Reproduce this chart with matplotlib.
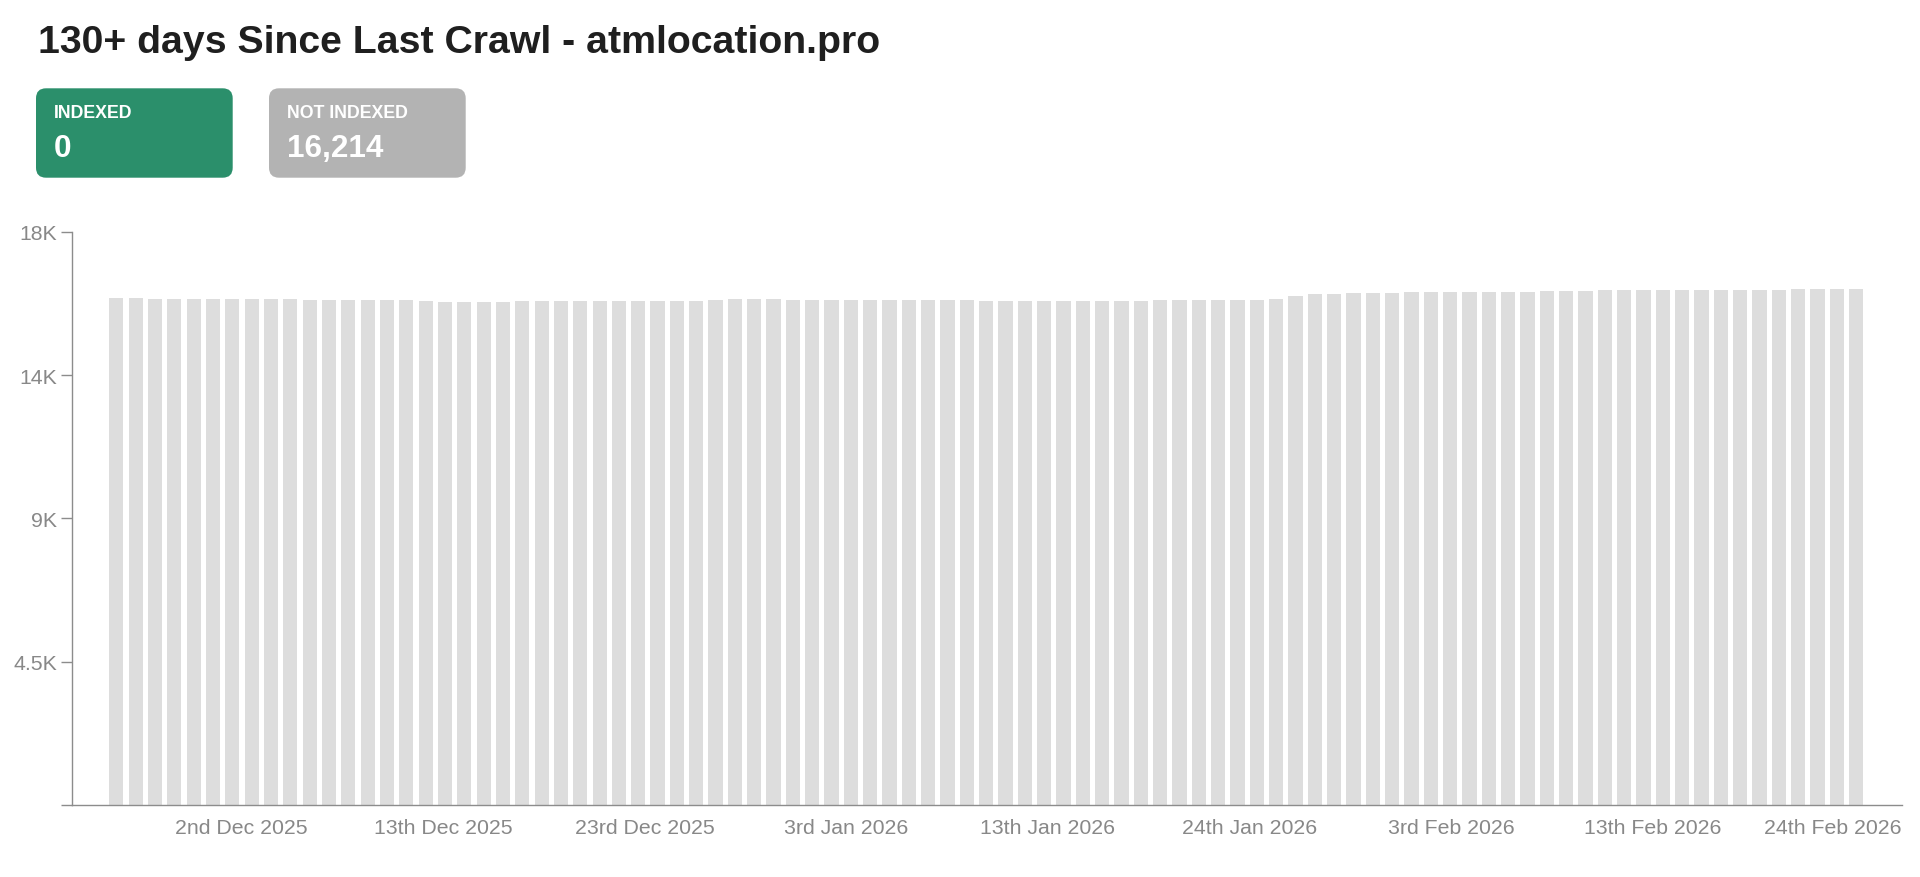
import pandas as pd
import matplotlib
matplotlib.use('Agg')
import matplotlib.pyplot as plt
import matplotlib.dates as mdates
from matplotlib.patches import FancyBboxPatch
from matplotlib.transforms import ScaledTranslation

plt.rcParams['font.family'] = ['Liberation Sans', 'DejaVu Sans']

DPI = 100
W, H = 1920, 878

# ============================================================
# Data
# ============================================================
TITLE = '130+ days Since Last Crawl - atmlocation.pro'

dates = pd.date_range('2025-11-26', '2026-02-24', freq='D')
not_indexed = [
    15931, 15921, 15900, 15879, 15879, 15879, 15879, 15879, 15879, 15879,
    15869, 15869, 15858, 15858, 15848, 15848, 15816, 15806, 15806, 15806,
    15806, 15816, 15816, 15827, 15837, 15837, 15837, 15837, 15837, 15837,
    15837, 15858, 15900, 15890, 15879, 15869, 15848, 15848, 15848, 15848,
    15848, 15848, 15848, 15848, 15848, 15837,
    15827, 15827, 15827, 15827, 15816, 15816, 15827, 15827, 15848, 15848,
    15848, 15848, 15858, 15858, 15890, 15994, 16057, 16057, 16067, 16078,
    16067, 16099, 16099, 16099, 16099, 16099, 16099, 16109, 16130, 16130,
    16130, 16162, 16162, 16172, 16183, 16183, 16183, 16183, 16183, 16183,
    16183, 16193, 16193, 16204, 16214,
]
indexed_count = 0

tick_dates = pd.to_datetime(['2025-12-02', '2025-12-13', '2025-12-23',
                             '2026-01-03', '2026-01-13', '2026-01-24',
                             '2026-02-03', '2026-02-13', '2026-02-24'])
tick_labels = ['2nd Dec 2025', '13th Dec 2025', '23rd Dec 2025',
               '3rd Jan 2026', '13th Jan 2026', '24th Jan 2026',
               '3rd Feb 2026', '13th Feb 2026', '24th Feb 2026']
y_ticks = [0, 4500, 9000, 13500, 18000]

# ============================================================
# Figure
# ============================================================
GREY_TXT = '#888888'
AXIS_COL = '#8c8c8c'

fig = plt.figure(figsize=(W / DPI, H / DPI), dpi=DPI)
fig.patch.set_facecolor('white')

# header overlay in pixel coordinates
ov = fig.add_axes([0, 0, 1, 1])
ov.set_xlim(0, W)
ov.set_ylim(H, 0)
ov.axis('off')

ov.text(38, 53.3, TITLE, fontsize=28.3, fontweight='bold', color='#1f1f1f',
        ha='left', va='baseline')

cards = [('INDEXED', indexed_count, '#2b8f6b', 36),
         ('NOT INDEXED', not_indexed[-1], '#b3b3b3', 269)]
for label, val, col, x0 in cards:
    ov.add_patch(FancyBboxPatch((x0, 89.3), 196.7, 89.4,
                                boxstyle='round,pad=0,rounding_size=10',
                                fc=col, ec='none'))
    ov.text(x0 + 18, 118.3, label, fontsize=12.8, fontweight='bold',
            color='white', ha='left', va='baseline')
    ov.text(x0 + 18, 157.3, f'{val:,}', fontsize=22.7, fontweight='bold',
            color='white', ha='left', va='baseline')

# bar chart
ax = fig.add_axes([71.7 / W, 1 - 806 / H, 1830 / W, 573.3 / H])
ax.bar(dates, not_indexed, width=0.735, color='#dddddd', align='center')
ax.set_xlim(dates[0] - pd.Timedelta(days=2.31),
            dates[-1] + pd.Timedelta(days=2.36))
ax.set_ylim(0, 18000)

tick_pos = pd.date_range(tick_dates[0] + pd.Timedelta(hours=11),
                         tick_dates[-1] - pd.Timedelta(hours=2),
                         periods=len(tick_dates))
ax.set_xticks(tick_pos)
ax.set_xticklabels(tick_labels)
ax.set_yticks(y_ticks)
ax.set_yticklabels(['' if v == 0 else f'{v / 1000:.2g}K' for v in y_ticks])

for side in ['top', 'right']:
    ax.spines[side].set_visible(False)
for side in ['left', 'bottom']:
    ax.spines[side].set_color(AXIS_COL)
    ax.spines[side].set_linewidth(1.0)

ax.tick_params(axis='x', length=0, pad=9.5, labelsize=15.3,
               labelcolor=GREY_TXT)
ax.tick_params(axis='y', length=7.7, width=1.0, color=AXIS_COL, pad=2.7,
               labelsize=15.3, labelcolor=GREY_TXT)

# last date label is pushed inside the axis end
x_end_px = ax.transAxes.transform((1, 0))[0]
tick_px = ax.transData.transform((mdates.date2num(tick_pos[-1]), 0))[0]
last = ax.get_xticklabels()[-1]
last.set_horizontalalignment('right')
last.set_transform(last.get_transform() +
                   ScaledTranslation((x_end_px - tick_px) / DPI, 0,
                                     fig.dpi_scale_trans))

fig.savefig('out.png', dpi=DPI)
